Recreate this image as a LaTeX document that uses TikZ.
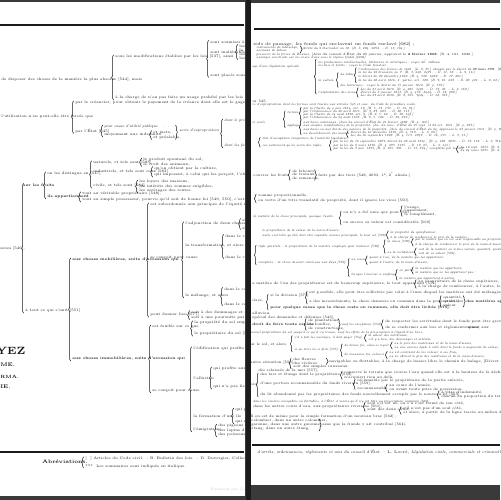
\documentclass[tikz,border=0pt]{standalone}
\usetikzlibrary{decorations.pathreplacing}
\definecolor{scan}{HTML}{3A3A3A}
\definecolor{gutter}{HTML}{1C1C1C}
\definecolor{ink}{HTML}{1A1A1A}
\tikzset{
  txt/.style={anchor=west, inner sep=0pt, text=ink, font=\fontsize{2.1}{2.5}\selectfont},
  itx/.style={txt, font=\fontsize{2.1}{2.5}\selectfont\itshape},
  bfx/.style={txt, font=\fontsize{2.1}{2.5}\selectfont\bfseries},
  rlg/.style={txt, font=\fontsize{2.4}{2.8}\selectfont},
  rtx/.style={txt, font=\fontsize{2}{2.4}\selectfont},
  rit/.style={txt, font=\fontsize{1.8}{2.2}\selectfont\itshape},
  rbf/.style={txt, font=\fontsize{2}{2.4}\selectfont\bfseries},
  br/.style={draw=ink, decorate, decoration={brace, amplitude=1.1pt}, line width=0.3pt},
}
\begin{document}
\begin{tikzpicture}[x=0.02cm, y=-0.02cm]
  \useasboundingbox (0,0) rectangle (500,500);
  % scanned double page
  \fill[scan] (0,0) rectangle (500,500);
  \fill[white] (0,2) rectangle (244.5,496);
  \fill[white] (250.5,3) rectangle (500,485);
  \fill[gutter] (245.5,0) rectangle (250.5,500);
  \draw[ink, line width=0.8pt] (0,25) -- (244,25);
  \draw[ink, line width=1.2pt] (254,29) -- (500,29);
  \draw[ink, line width=1pt] (0,452) -- (244,452);
  \draw[ink, line width=1pt] (252,445) -- (500,445);

  % left page
  \begin{scope}
    \clip (0,2) rectangle (244.5,496);
    \node[txt] (mais) at (1,80) {de disposer des choses de la manière la plus absolue [544], mais};
    \node[txt] (lois) at (115,57) {sous les modifications établies par les lois [537], ainsi :};
    \node[txt] (charge) at (115,98) {à la charge de n'en pas faire un usage prohibé par les lois ou par les règlements [544] ;};
    \draw[br] ([xshift=-0.8pt]charge.south west) -- ([xshift=-0.8pt]lois.north west);
    \node[txt] (soum) at (210,42) {sont soumises à la surveillance de l'administration};
    \node[txt] (inal) at (210,52) {sont inaliénables};
    \node[txt] (plac) at (210,75) {sont placés sous l'autorité de l'État};
    \draw[br] ([xshift=-0.8pt]plac.south west) -- ([xshift=-0.8pt]soum.north west);
    \node[txt] (ina1) at (239,46) {les biens};
    \node[txt] (ina2) at (239,50) {la dot};
    \node[txt] (ina3) at (239,54) {les rues};
    \node[txt] (ina4) at (239,58) {les routes};
    \draw[br] ([xshift=-0.8pt]ina4.south west) -- ([xshift=-0.8pt]ina1.north west);

    \node[txt] (force) at (1,117) {l'utilisation n'en peut-elle être forcée que};
    \node[txt] (cred) at (75,103) {par le créancier, pour obtenir le payement de la créance dont elle est le gage, [2092, 2093 et suiv.]};
    \node[txt] (etat) at (75,131) {par l'État [545]};
    \draw[br] ([xshift=-0.8pt]etat.south west) -- ([xshift=-0.8pt]cred.north west);
    \node[itx] (util) at (104,127) {pour cause d'utilité publique \ \ . \ . \ .};
    \node[txt] (indem) at (104,135) {moyennant une indemnité};
    \draw[br] ([xshift=-0.8pt]indem.south west) -- ([xshift=-0.8pt]util.north west);
    \node[txt] (juste) at (153,132.5) {et juste,};
    \node[txt] (prea) at (153,137.5) {et préalable,};
    \draw[br] ([xshift=-0.8pt]prea.south west) -- ([xshift=-0.8pt]juste.north west);
    \node[itx] (sorte) at (179,131) {sorte d'expropriation};
    \draw[br] ([xshift=-2pt]sorte.west |- util.north) -- ([xshift=-2pt]sorte.west |- prea.south);
    \node[itx] (prix) at (224,121) {dont le prix est fixé par le jury};
    \node[itx] (fonds) at (224,146) {dont les formes sont réglées par la loi};
    \draw[br] ([xshift=-0.8pt]fonds.south west) -- ([xshift=-0.8pt]prix.north west);

    % accession
    \node[txt] (acc) at (0,249) {ssion [546],};
    \node[bfx] (fruits) at (23,185) {sur les fruits};
    \node[txt] (unit) at (25,311) {à tout ce qui s'unit [551]};
    \draw[br] ([xshift=-0.8pt]unit.south west) -- ([xshift=-0.8pt]unit.west |- fruits.north);
    \node[txt] (dist) at (47,174) {on les distingue en [547]};
    \node[bfx] (appar) at (47,197) {ils appartiennent};
    \draw[br] ([xshift=-0.8pt]appar.south west) -- ([xshift=-0.8pt]dist.north west);
    \node[txt] (nat) at (93,163) {naturels, et tels sont [583]};
    \node[txt] (ind) at (93,172) {industriels, et tels sont ceux [583]};
    \node[txt] (civ) at (93,186) {civils, et tels sont [584]};
    \draw[br] ([xshift=-0.8pt]civ.south west) -- ([xshift=-0.8pt]nat.north west);
    \node[txt] (nat1) at (143,160) {le produit spontané du sol,};
    \node[txt] (nat2) at (143,164.5) {le croît des animaux,};
    \draw[br] ([xshift=-0.8pt]nat2.south west) -- ([xshift=-0.8pt]nat1.north west);
    \node[txt] (ind1) at (154,168.5) {qu'on obtient par la culture,};
    \node[txt] (ind2) at (154,175) {qui imposent, à celui qui les perçoit, l'obligation de rembourser les frais [548],};
    \draw[br] ([xshift=-0.8pt]ind2.south west) -- ([xshift=-0.8pt]ind1.north west);
    \node[txt] (civ1) at (139,182) {les loyers des maisons,};
    \node[txt] (civ2) at (139,186.5) {les intérêts des sommes exigibles,};
    \node[txt] (civ3) at (139,191) {les arrérages des rentes.};
    \draw[br] ([xshift=-0.8pt]civ3.south west) -- ([xshift=-0.8pt]civ1.north west);
    \node[txt] (ver) at (82,194) {tout au véritable propriétaire [548],};
    \node[txt] (poss) at (82,200) {tout au simple possesseur, pourvu qu'il soit de bonne foi [549, 550], c'est-à-dire qu'il possède comme propriétaire};
    \draw[br] ([xshift=-0.8pt]poss.south west) -- ([xshift=-0.8pt]ver.north west);

    \node[bfx] (mob) at (72,260) {aux choses mobilières, suite d'accession qui};
    \node[bfx] (immob) at (72,359) {aux choses immobilières, suite d'accession qui};
    \draw[br] ([xshift=-0.8pt]immob.south west) -- ([xshift=-0.8pt]mob.north west);
    \node[txt] (subo) at (150,205) {est subordonnée aux principes de l'équité naturelle [565], à défaut de règles positives};
    \node[txt] (conc) at (150,258) {se conçoit pour cause};
    \node[txt] (lieu) at (150,315) {peut donner lieu [577]};
    \draw[br] ([xshift=-0.8pt]lieu.south west) -- ([xshift=-0.8pt]subo.north west);
    \node[txt] (adj) at (185,224) {l'adjonction de deux choses diverses [566],};
    \node[txt] (transf) at (185,246) {la transformation, et alors};
    \node[txt] (mel) at (185,296) {le mélange, et alors};
    \draw[br] ([xshift=-0.8pt]mel.south west) -- ([xshift=-0.8pt]adj.north west);
    \node[txt] (adj1) at (242,220) {si};
    \node[txt] (adj2) at (242,228) {si};
    \draw[br] ([xshift=-0.8pt]adj2.south west) -- ([xshift=-0.8pt]adj1.north west);
    \node[txt] (tr1) at (225,236) {dans le cas où la matière};
    \node[txt] (tr2) at (225,257) {dans le cas où la main-d'œuvre};
    \draw[br] ([xshift=-0.8pt]tr2.south west) -- ([xshift=-0.8pt]tr1.north west);
    \node[txt] (me1) at (224,289) {dans le cas où les matières};
    \node[txt] (me2) at (224,304) {dans le cas contraire};
    \draw[br] ([xshift=-0.8pt]me2.south west) -- ([xshift=-0.8pt]me1.north west);
    \node[txt] (li1) at (191,312.5) {soit à des dommages et intérêts,};
    \node[txt] (li2) at (191,317.5) {soit à une poursuite par voie criminelle [577].};
    \draw[br] ([xshift=-0.8pt]li2.south west) -- ([xshift=-0.8pt]li1.north west);

    \node[txt] (fond) at (152,327) {est fondée sur ce que};
    \node[txt] (conc2) at (152,391) {se conçoit pour cause};
    \draw[br] ([xshift=-0.8pt]conc2.south west) -- ([xshift=-0.8pt]fond.north west);
    \node[txt] (fo1) at (194,323) {la propriété du sol emporte la propriété du dessus et du dessous [552],};
    \node[txt] (fo2) at (194,334) {le propriétaire du sol [553],};
    \draw[br] ([xshift=-0.8pt]fo2.south west) -- ([xshift=-0.8pt]fo1.north west);
    \node[txt] (edif) at (193,349) {l'édification qui profite au propriétaire du sol [554],};
    \node[txt] (alluv) at (193,378) {l'alluvion};
    \node[txt] (ile) at (193,416) {la formation d'une île};
    \node[txt] (emig) at (193,430) {l'émigration};
    \draw[br] ([xshift=-0.8pt]emig.south west) -- ([xshift=-0.8pt]edif.north west);
    \node[txt] (al1) at (213,369) {qui profite aux propriétaires riverains [556],};
    \node[txt] (al2) at (213,387) {qui n'a pas lieu, à l'égard des lais et relais de la mer [557],};
    \draw[br] ([xshift=-0.8pt]al2.south west) -- ([xshift=-0.8pt]al1.north west);
    \node[txt] (il1) at (235,410) {qui profite};
    \node[txt] (il2) at (235,422) {qui n'a};
    \draw[br] ([xshift=-0.8pt]il2.south west) -- ([xshift=-0.8pt]il1.north west);
    \node[txt] (em1) at (218,426) {des pigeons d'un colombier,};
    \node[txt] (em2) at (218,430.5) {des lapins d'une garenne,};
    \node[txt] (em3) at (218,435) {des poissons d'un étang,};
    \draw[br] ([xshift=-0.8pt]em3.south west) -- ([xshift=-0.8pt]em1.north west);

    % imprint and footer
    \node[anchor=west, inner sep=0pt, text=ink, font=\fontsize{6}{6}\selectfont\bfseries] (nom) at (-4,351) {YEZ};
    \node[anchor=west, inner sep=0pt, text=ink, font=\fontsize{3}{3}\selectfont\bfseries] (ed1) at (0,365) {ME.};
    \node[anchor=west, inner sep=0pt, text=ink, font=\fontsize{2.6}{3}\selectfont\bfseries] (ed2) at (0,377) {RMA.};
    \node[anchor=west, inner sep=0pt, text=ink, font=\fontsize{3}{3}\selectfont\bfseries] (ed3) at (0,387) {IE.};
    \node[txt, font=\fontsize{2.9}{3.2}\selectfont\bfseries] (abr) at (42,462) {Abréviations.};
    \node[txt] (ab1) at (85,459) {[ \ ] Articles du Code civil. -- B. Bulletin des lois. -- D. Duvergier, Collection complète des lois, décrets,};
    \node[txt] (ab2) at (85,466) {*** \ Les sommaires sont indiqués en italique.};
    \draw[br] ([xshift=-0.8pt]ab2.south west) -- ([xshift=-0.8pt]ab1.north west);
    \node[txt, text=black!22, font=\fontsize{2}{2.4}\selectfont] (goog) at (210,490) {Numérisé par Google};
  \end{scope}

  % right page
  \begin{scope}
    \clip (250.5,3) rectangle (500,485);
    \node[rlg] (r1) at (253,44) {ieds de passage, les fonds qui enclavent un fonds enclavé [682] ;};
    \node[rit] (r2) at (256,47.5) {instruments de labourage,};
    \node[rit] (r3) at (256,51) {animaux de labour,};
    \node[rit] (r4) at (302,49) {Arrêté du 9 thermidor an 10. [B. 3, 204. 2052. -- D. 13, 164.]};
    \draw[br] ([xshift=-1pt]r4.west |- r2.north) -- ([xshift=-1pt]r4.west |- r3.south);
    \node[rit] (r5) at (256,54.5) {pressoirs de la ferme de Bouvier, \upshape [Avis du conseil d'État du 25 janvier, approuvé le \textbf{2 février 1808}. [B. 4, 181. 3028.]};
    \node[rit] (r6) at (256,58) {ouvrages construits sur les cours d'eau sous le régime féodal [2226].};
    \node[rit] (leg) at (252,67) {age d'une législation spéciale};
    \node[rit] (prod) at (318,62) {les productions intellectuelles, littéraires et artistiques : voyez 22\textsuperscript{e} tableau.};
    \node[rit] (bois) at (318,65.5) {les bois et forêts : voyez le Code forestier.};
    \node[rit] (cult) at (318,80) {la culture};
    \node[rit] (mines) at (318,92.5) {l'exploitation des mines};
    \draw[br] ([xshift=-1pt]mines.south west) -- ([xshift=-1pt]prod.north west);
    \node[rit] (tabac) at (340,74) {du tabac};
    \node[rit] (bett) at (340,85.5) {des betteraves : voyez le décret du 15 janvier 1812. [B. 4, 559.]};
    \draw[br] ([xshift=-1pt]bett.south west) -- ([xshift=-1pt]tabac.north west);
    \node[rit] (ord) at (358,69.5) {l'ordonnance des fermes de 1681. [L. 9, 25.] abrogée par le décret du \textbf{29 mars 1791}. [B.]};
    \node[rit] (l22) at (358,73) {la loi du 22 brumaire an 7. [B. 3, 240. 2471. -- D. 11, 58. -- L. 9, 16.]};
    \node[rit] (d29) at (358,76.5) {le décret du 29 décembre 1810. [B. 4, 339. 6239. -- D. 17, 281.]};
    \node[rit] (l28) at (358,80) {la loi du 28 avril 1816, 2\textsuperscript{e} partie, art. 180. [B. 7, 81. 623. -- D. 20, 421. -- L. 8, 68.]};
    \draw[br] ([xshift=-1pt]l28.south west) -- ([xshift=-1pt]ord.north west);
    \node[rit] (l21) at (360,89.5) {Loi du 21 avril 1810. [B. 4, 285. 5401. -- D. 17, 36. -- L. 3, 169.]};
    \node[rit] (d3) at (360,92.5) {Décret du 3 janvier 1813. [B. 4, 457. 8442. -- D. 18, 290.]};
    \node[rit] (l27) at (360,95.5) {Loi du 27 avril 1838. [B. 9, 525. 7424. -- D. 38, 325.]};
    \draw[br] ([xshift=-1pt]l27.south west) -- ([xshift=-1pt]l21.north west);

    \node[rtx] (u545) at (252,101) {ur 545.};
    \node[rit] (expr) at (252,104.5) {re d'expropriation dont les formes sont tracées aux articles 545 et suiv. du Code de procédure civile.};
    \node[rit] (civils) at (252,122) {ts civils};
    \node[rit] (terr) at (287,112) {terrains};
    \node[rit] (appl) at (287,126) {appliqué};
    \draw[br] ([xshift=-1pt]appl.south west) -- ([xshift=-1pt]terr.north west);
    \node[rit] (c4) at (303,109) {par la Charte du 4 juin 1814, art. 10. [B. 5, 17. 133. -- D. 19, 91.]};
    \node[rit] (o26) at (303,112) {par l'Ordonnance du 26 avril 1815. [B. 7, 87. 603. -- D. 20, 115.]};
    \node[rit] (c14) at (303,115) {par la Charte du 14 août 1830, art. 9. [B. 9, 5. 62. -- D. 30, 142.]};
    \node[rit] (o24) at (303,118) {par l'Ordonnance du 24 août 1833. [B. 9, 5. 126. -- D. 30, 223.]};
    \draw[br] ([xshift=-1pt]o24.south west) -- ([xshift=-1pt]c4.north west);
    \node[rit] (bn) at (303,122) {aux biens nationaux. [Avis du conseil d'État du 21 février 1808. [B. 4, 162.]};
    \node[rit] (smod) at (303,125.5) {aux simples modifications de la propriété. [Av. du cons. d'État du 25 sept. et 22 oct. 1811. [B. 4, 273.]};
    \node[rit] (bdr) at (303,129) {aux biens ou aux droits des auteurs de la propriété. [Avis du conseil d'État du 24, approuvé le 23 janvier 1811. [B. 4, 763.]};
    \node[rit] (dess) at (303,133.5) {au desséchement des marais.};
    \draw[br] ([xshift=-1pt]dess.south west) -- ([xshift=-1pt]bn.north west);
    \node[rit] (d16) at (350,132.5) {Décret du 16 décembre 1810. [B. 4, 317. -- L. 3, 22.]};
    \node[rit] (l16) at (350,136) {Loi du 16 septembre 1807. [B. 4, 113. 2747. -- D. 16, 155. -- L. 3, 15.]};
    \draw[br] ([xshift=-1pt]l16.south west) -- ([xshift=-1pt]d16.north west);
    \node[rit] (occ) at (262,139) {état d'occupation temporaire de l'autorité législative,};
    \node[rit] (aut) at (262,145.5) {cas autrement qu'en vertu des règles};
    \draw[br] ([xshift=-1pt]aut.south west) -- ([xshift=-1pt]occ.north west);
    \node[rit] (p16) at (333,142) {par la loi du 16 septembre 1807, décret du 28 août 1834 ; [B. 4, 188. 2871. -- D. 17, 118. -- L. 3, 716.]};
    \node[rit] (p8) at (333,145.5) {par la loi du 8 mars 1810. [B. 4, 273. 5255. -- D. 17, 25. -- L. 3, 145.]};
    \node[rit] (p7) at (333,149) {par la loi du 7 juil. 1833, [B. 9, 105. 791. -- D. 33, 274.] complétée par les art.};
    \draw[br] ([xshift=-1pt]p7.south west) -- ([xshift=-1pt]p16.north west);
    \node[rit] (s18) at (460,147.5) {du 18 sept. 1833. [B. 9, 525.]};
    \node[rit] (s24) at (460,151) {du 24 mars 1835. [B. 9, 557.]};
    \draw[br] ([xshift=-1pt]s24.south west) -- ([xshift=-1pt]s18.north west);

    \node[rtx] (fr) at (253,175) {couvrer les fruits};
    \node[rtx] (lab) at (292,171.5) {de labours,};
    \node[rtx] (trav) at (292,175) {de travaux,};
    \node[rtx] (sem) at (292,178.5) {de semences,};
    \draw[br] ([xshift=-1pt]sem.south west) -- ([xshift=-1pt]lab.north west);
    \node[rtx] (tiers) at (318,175) {faits par des tiers [548, 2093, 1°, 2\textsuperscript{e} alinéa.]};
    \draw[br] ([xshift=-2pt]tiers.west |- lab.north) -- ([xshift=-2pt]tiers.west |- sem.south);
    \node[rtx] (som) at (258,196) {somme proportionnelle,};
    \node[rtx] (tit) at (258,201) {en vertu d'un titre translatif de propriété, dont il ignore les vices [550].};
    \draw[br] ([xshift=-1pt]tit.south west) -- ([xshift=-1pt]som.north west);

    \node[rit] (princ) at (253,217) {la matière de la chose principale, quoique l'autre};
    \node[rtx] (unie) at (343,213) {ou n'y a été unie que pour [567]};
    \node[rtx] (val) at (343,223) {ou encore sa valeur est considérable [569]};
    \draw[br] ([xshift=-1pt]val.south west) -- ([xshift=-1pt]unie.north west);
    \node[rtx] (us1) at (404,207.5) {l'usage,};
    \node[rtx] (us2) at (404,211) {l'ornement,};
    \node[rtx] (us3) at (404,214.5) {le complément,};
    \draw[br] ([xshift=-1pt]us3.south west) -- ([xshift=-1pt]us1.north west);
    \node[rit] (main) at (262,231) {le propriétaire de la valeur de la main-d'œuvre,};
    \node[rit] (imp) at (262,236) {autre soit telle qu'elle doit être regardée comme principale, le tout est [570]};
    \node[rit] (im1) at (390,232.5) {la propriété du spécificateur,};
    \node[rit] (im2) at (390,237.5) {à la charge de rembourser le prix de la matière ;};
    \draw[br] ([xshift=-1pt]im2.south west) -- ([xshift=-1pt]im1.north west);
    \node[rit] (gen) at (258,247) {règle générale : le propriétaire de la matière employée peut réclamer [570]};
    \node[rit] (exc) at (258,263) {exception : la chose devient commune aux deux [572],};
    \draw[br] ([xshift=-1pt]exc.south west) -- ([xshift=-1pt]gen.north west);
    \node[rit] (pch) at (387,241.5) {la chose [570],};
    \node[rit] (rest) at (387,252) {ou la restitution};
    \draw[br] ([xshift=-1pt]rest.south west) -- ([xshift=-1pt]pch.north west);
    \node[rit] (pc1) at (415,240) {par le maître qui en est seul responsable au propriétaire,};
    \node[rit] (pc2) at (415,244.5) {à la charge de rembourser le prix de la main-d'œuvre,};
    \draw[br] ([xshift=-1pt]pc2.south west) -- ([xshift=-1pt]pc1.north west);
    \node[rit] (rs1) at (418,249.5) {soit de la matière en même nature, quantité, poids, mesure et bonté,};
    \node[rit] (rs2) at (418,254) {soit de sa valeur [576],};
    \draw[br] ([xshift=-1pt]rs2.south west) -- ([xshift=-1pt]rs1.north west);
    \node[rit] (mieux) at (351,259.5) {au mieux};
    \node[rit] (spec) at (351,275) {lorsque l'ouvrier a employé};
    \draw[br] ([xshift=-1pt]spec.south west) -- ([xshift=-1pt]mieux.north west);
    \node[rit] (mx1) at (369,257.5) {quant à l'un, de la matière qui lui appartient,};
    \node[rit] (mx2) at (369,263) {quant à l'autre, de la main-d'œuvre,};
    \draw[br] ([xshift=-1pt]mx2.south west) -- ([xshift=-1pt]mx1.north west);
    \node[rit] (sp1) at (399,271) {en partie};
    \node[rit] (sp2) at (399,278.5) {la matière qui appartient à autrui,};
    \draw[br] ([xshift=-1pt]sp2.south west) -- ([xshift=-1pt]sp1.north west);
    \node[rit] (pt1) at (415,268.5) {la matière qui lui appartient,};
    \node[rit] (pt2) at (415,272.5) {la matière qui ne lui appartient pas ;};
    \draw[br] ([xshift=-1pt]pt2.south west) -- ([xshift=-1pt]pt1.north west);

    \node[rtx] (sup) at (252,284) {a matière de l'un des propriétaires est de beaucoup supérieure, le tout appartient [574]};
    \node[rtx] (su1) at (418,281.5) {au propriétaire de la chose supérieure,};
    \node[rtx] (su2) at (418,286.5) {à la charge de rembourser, à l'autre, le prix de sa matière.};
    \draw[br] ([xshift=-1pt]su2.south west) -- ([xshift=-1pt]su1.north west);
    \node[rtx] (mat) at (252,301) {ières,};
    \node[rtx] (div) at (270,296) {si la division [575]};
    \node[rbf] (pq) at (270,308) {pour quelque cause que la chose reste en commun, elle doit être licitée [575].};
    \draw[br] ([xshift=-1pt]pq.south west) -- ([xshift=-1pt]div.north west);
    \node[rtx] (dv1) at (309,293) {est possible, elle peut être sollicitée par celui à l'insu duquel les matières ont été mélangées ;};
    \node[rtx] (dv2) at (309,302) {a des inconvénients, la chose demeure en commun dans la proportion des};
    \draw[br] ([xshift=-1pt]dv2.south west) -- ([xshift=-1pt]dv1.north west);
    \node[rtx] (q1) at (443,297.5) {quantité,};
    \node[rtx] (q2) at (443,301.5) {qualité,};
    \node[rtx] (q3) at (443,305.5) {valeur};
    \draw[br] ([xshift=-1pt]q3.south west) -- ([xshift=-1pt]q1.north west);
    \node[rbf] (chac) at (466,301.5) {des matières appartenant à chacun};
    \draw[br] ([xshift=-1.6pt]chac.west |- q1.north) -- ([xshift=-1.6pt]chac.west |- q3.south);

    \node[rtx] (allu) at (252,314) {alluvion,};
    \node[rtx] (spc) at (252,318) {spécial des demandes et défenses [543],};
    \node[rbf] (faire) at (252,324.5) {droit de faire toute espèce};
    \node[rtx] (pl1) at (308,320.5) {de plantations,};
    \node[rtx] (pl2) at (308,324.5) {de fouilles,};
    \node[rtx] (pl3) at (308,328.5) {de constructions,};
    \draw[br] ([xshift=-1pt]pl3.south west) -- ([xshift=-1pt]pl1.north west);
    \node[rit] (sauf) at (341,324.5) {sauf les exceptions [552]};
    \draw[br] ([xshift=-1.6pt]sauf.west |- pl1.north) -- ([xshift=-1.6pt]sauf.west |- pl3.south);
    \node[rtx] (sf1) at (385,321.5) {de respecter les servitudes dont le fonds peut être grevé,};
    \node[rtx] (sf2) at (385,327.5) {de se conformer aux lois et règlements quant aux};
    \draw[br] ([xshift=-1pt]sf2.south west) -- ([xshift=-1pt]sf1.north west);
    \node[rtx] (sf3) at (466,328) {mines,};

    \node[rit] (pres) at (250,332.5) {sonnel propriétaire du sol jusqu'à ce qu'il s'y trouve, sauf les effets de la prescription à l'égard d'un tiers,};
    \node[rtx] (sol) at (250,345) {ur le sol, et alors};
    \node[rit] (paie) at (294,337.5) {s'il a fait les ouvrages, il doit payer [554]};
    \node[rit] (tie) at (294,350) {si un tiers les a faits [555]};
    \draw[br] ([xshift=-1pt]tie.south west) -- ([xshift=-1pt]paie.north west);
    \node[rit] (pa1) at (368,336) {la valeur des matériaux,};
    \node[rit] (pa2) at (368,340) {s'il y a lieu, des dommages et intérêts,};
    \draw[br] ([xshift=-1pt]pa2.south west) -- ([xshift=-1pt]pa1.north west);
    \node[rit] (bf) at (344,345.5) {de bonne foi, celui-ci reçoit};
    \node[rit] (mf) at (344,355) {de mauvaise foi, celui-ci};
    \draw[br] ([xshift=-1pt]mf.south west) -- ([xshift=-1pt]bf.north west);
    \node[rit] (bf1) at (394,343.5) {ou le prix des matériaux et de la main-d'œuvre,};
    \node[rit] (bf2) at (394,347.5) {ou une somme égale à celle dont le fonds a augmenté de valeur,};
    \draw[br] ([xshift=-1pt]bf2.south west) -- ([xshift=-1pt]bf1.north west);
    \node[rit] (mf1) at (389,353) {ou est contraint de les enlever à ses frais,};
    \node[rit] (mf2) at (389,357) {ou en obtient le prix des matériaux et de la main-d'œuvre,};
    \draw[br] ([xshift=-1pt]mf2.south west) -- ([xshift=-1pt]mf1.north west);
    \node[rtx] (sit) at (250,363) {autre situation [556]};
    \node[rtx] (fl) at (293,359.5) {des fleuves};
    \node[rtx] (riv) at (293,363) {des rivières};
    \node[rtx] (ruis) at (293,367) {soit des simples ruisseaux.};
    \draw[br] ([xshift=-1pt]ruis.south west) -- ([xshift=-1pt]fl.north west);
    \node[rtx] (hal) at (329,361.5) {navigables ou flottables, à la charge de laisser libre le chemin de halage, [Décret du 22 janv. 1808. [B. 4, 71.]};
    \draw[br] ([xshift=-1.6pt]hal.west |- fl.north) -- ([xshift=-1.6pt]hal.west |- riv.south);
    \node[rtx] (rel) at (258,371) {des relaissés de la mer [557],};
    \node[rtx] (ordd) at (250,385) {ord,};
    \node[rtx] (lac) at (260,375) {des lacs et étangs dont le propriétaire [558]};
    \node[rtx] (port) at (260,384) {d'une portion reconnaissable du fonds riverain [559]};
    \node[rtx] (lit) at (260,395) {du lit abandonné par les propriétaires des fonds nouvellement occupés par le nouveau lit [563]};
    \draw[br] ([xshift=-1pt]lit.south west) -- ([xshift=-1pt]lac.north west);
    \node[rtx] (lc1) at (344,373) {conserve le terrain que couvre l'eau quand elle est à la hauteur de la décharge,};
    \node[rtx] (lc2) at (344,377.5) {n'acquiert rien au delà,};
    \draw[br] ([xshift=-1pt]lc2.south west) -- ([xshift=-1pt]lc1.north west);
    \node[rtx] (po1) at (357,381) {réclamable par le propriétaire de la partie enlevée,};
    \node[rtx] (po2) at (357,388) {reconnaissable};
    \draw[br] ([xshift=-1pt]po2.south west) -- ([xshift=-1pt]po1.north west);
    \node[rtx] (rc1) at (389,386) {au cours de l'année,};
    \node[rtx] (rc2) at (389,390) {ou avant toute prise de possession,};
    \draw[br] ([xshift=-1pt]rc2.south west) -- ([xshift=-1pt]rc1.north west);
    \node[rtx] (lt1) at (441,392.5) {à titre d'indemnité,};
    \node[rtx] (lt2) at (441,397) {chacun en proportion du terrain};
    \draw[br] ([xshift=-1pt]lt2.south west) -- ([xshift=-1pt]lt1.north west);
    \node[rit] (nav) at (253,401) {dans les rivières navigables ou flottables, à l'État, à moins qu'il n'y ait titre ou prescription contraire [560],};
    \node[rtx] (aut2) at (253,406.5) {dans les autres cours d'eau, aux propriétaires riverains [561],};
    \node[rtx] (av1) at (367,404) {seul s'il est né, ou s'il s'est formé de son côté,};
    \node[rtx] (av2) at (367,409.5) {sont des deux côtés,};
    \draw[br] ([xshift=-1pt]av2.south west) -- ([xshift=-1pt]av1.north west);
    \node[rtx] (dc1) at (403,408.5) {s'il n'est pas d'un seul côté,};
    \node[rtx] (dc2) at (403,412.5) {et alors, à partir de la ligne tracée au milieu de la rivière.};
    \draw[br] ([xshift=-1pt]dc2.south west) -- ([xshift=-1pt]dc1.north west);
    \node[rtx] (bras) at (250,417) {Il en est de même pour la simple formation d'un nouveau bras [562] ;};
    \node[rtx] (col) at (251,421) {colombier, dans un autre colombier,};
    \node[rtx] (gar) at (251,425) {garenne, dans une autre garenne,};
    \node[rtx] (eta) at (251,429) {étang, dans un autre étang,};
    \node[rtx] (fraud) at (322,425) {sans que la fraude y ait contribué [564].};
    \draw[br] ([xshift=-1.6pt]fraud.west |- col.north) -- ([xshift=-1.6pt]fraud.west |- eta.south);
    \node[rit, font=\fontsize{2.3}{2.6}\selectfont\itshape] (loc) at (257,452) {d'arrêts, ordonnances, règlements et avis du conseil d'État. -- \upshape L. Locré, \itshape Législation civile, commerciale et criminelle de la France.};
  \end{scope}
\end{tikzpicture}
\end{document}
